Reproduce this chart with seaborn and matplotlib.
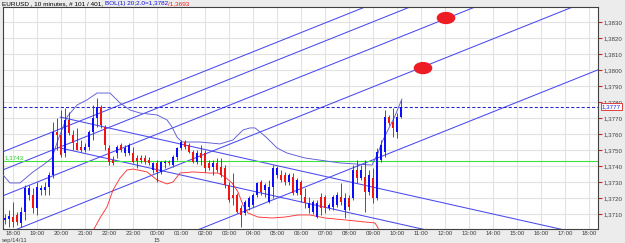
import matplotlib
matplotlib.use("Agg")
import matplotlib.pyplot as plt
import matplotlib.transforms as mtransforms
from matplotlib.patches import Ellipse
import numpy as np
import pandas as pd
import seaborn as sns

# ---------------------------------------------------------------- data
# 10 minute bars, bar 0 = 18:00 on sep/14/11
bar_start = -2
opens = [1.37063, 1.37069, 1.37081, 1.37094, 1.37044, 1.37113, 1.37219, 1.37219, 1.37138, 1.3725,
         1.3725, 1.37269, 1.37344, 1.37613, 1.37594, 1.37481, 1.37688, 1.37594, 1.37544, 1.37519,
         1.375, 1.37519, 1.37613, 1.377, 1.37769, 1.37644, 1.37513, 1.37438, 1.37481, 1.37531,
         1.37481, 1.37481, 1.37481, 1.3745, 1.3745, 1.3745, 1.37438, 1.37375, 1.37419, 1.37363,
         1.37419, 1.37425, 1.37406, 1.37456, 1.37513, 1.3755, 1.37531, 1.37488, 1.37425, 1.37481,
         1.37481, 1.37419, 1.37394, 1.37419, 1.37394, 1.37388, 1.37281, 1.37219, 1.37219, 1.37138,
         1.37106, 1.37144, 1.37156, 1.37219, 1.373, 1.3725, 1.37175, 1.37269, 1.37344, 1.37344,
         1.37344, 1.373, 1.37331, 1.37231, 1.373, 1.37206, 1.37138, 1.37113, 1.37081, 1.37206,
         1.37206, 1.37138, 1.37144, 1.37156, 1.37206, 1.37125, 1.372, 1.372, 1.37375, 1.37325,
         1.37331, 1.37238, 1.37325, 1.372, 1.37438, 1.37488, 1.37706, 1.37675, 1.37613, 1.37706]
highs = [1.371, 1.37125, 1.37175, 1.37113, 1.37144, 1.37281, 1.37281, 1.37263, 1.373, 1.37281,
         1.373, 1.37363, 1.37675, 1.377, 1.3775, 1.37763, 1.37738, 1.37625, 1.37638, 1.37563,
         1.37544, 1.37625, 1.37781, 1.37825, 1.37781, 1.37656, 1.37531, 1.37463, 1.37531, 1.37544,
         1.37531, 1.37544, 1.37519, 1.37469, 1.37469, 1.37469, 1.37456, 1.37425, 1.37438, 1.37431,
         1.37438, 1.37438, 1.37469, 1.37519, 1.37563, 1.37563, 1.37544, 1.375, 1.375, 1.37531,
         1.375, 1.37438, 1.37438, 1.3745, 1.3745, 1.37406, 1.373, 1.37356, 1.37231, 1.37156,
         1.37188, 1.37213, 1.37231, 1.373, 1.37313, 1.37294, 1.37313, 1.37406, 1.374, 1.37375,
         1.37363, 1.37356, 1.37356, 1.37325, 1.37313, 1.37263, 1.37206, 1.37188, 1.37188, 1.37231,
         1.37219, 1.37169, 1.37219, 1.37238, 1.37294, 1.37231, 1.37219, 1.37406, 1.37438, 1.37406,
         1.37438, 1.37375, 1.37388, 1.37513, 1.37563, 1.3775, 1.37719, 1.37763, 1.37731, 1.37813]
lows = [1.37038, 1.37019, 1.37019, 1.37031, 1.37019, 1.37063, 1.37188, 1.37106, 1.37094, 1.37219,
        1.37219, 1.37219, 1.37325, 1.375, 1.37456, 1.37456, 1.37594, 1.375, 1.375, 1.37488,
        1.37488, 1.375, 1.37563, 1.37644, 1.37638, 1.375, 1.37406, 1.37406, 1.3745, 1.37488,
        1.37463, 1.37469, 1.37419, 1.37388, 1.37419, 1.37413, 1.37406, 1.37356, 1.373, 1.3735,
        1.37388, 1.37406, 1.37394, 1.37438, 1.375, 1.37506, 1.37481, 1.37419, 1.37413, 1.37406,
        1.37363, 1.37375, 1.37344, 1.37363, 1.37331, 1.37263, 1.37175, 1.37156, 1.37106, 1.37019,
        1.37094, 1.37125, 1.37144, 1.37206, 1.37219, 1.37206, 1.37169, 1.372, 1.37325, 1.373,
        1.37281, 1.37281, 1.37219, 1.37219, 1.37175, 1.37138, 1.37106, 1.371, 1.37075, 1.37094,
        1.37106, 1.37125, 1.37125, 1.37144, 1.37156, 1.37075, 1.37125, 1.37188, 1.37294, 1.37313,
        1.37113, 1.37219, 1.37169, 1.37188, 1.37425, 1.37456, 1.37656, 1.37581, 1.37575, 1.377]
closes = [1.37075, 1.37088, 1.3705, 1.3705, 1.37113, 1.37263, 1.37263, 1.37138, 1.37269, 1.37263,
          1.37269, 1.37344, 1.37613, 1.37594, 1.37469, 1.37688, 1.37606, 1.37544, 1.375, 1.375,
          1.37519, 1.37613, 1.377, 1.37769, 1.37656, 1.37531, 1.37425, 1.37419, 1.37519, 1.375,
          1.37513, 1.37531, 1.37425, 1.37431, 1.37438, 1.37425, 1.37419, 1.37419, 1.37363, 1.37425,
          1.37425, 1.37419, 1.37456, 1.37513, 1.3755, 1.37519, 1.37488, 1.37425, 1.37481, 1.3745,
          1.37388, 1.37388, 1.37419, 1.37375, 1.37344, 1.37281, 1.37188, 1.372, 1.37113, 1.37094,
          1.37175, 1.372, 1.37219, 1.37294, 1.37238, 1.37281, 1.37269, 1.37388, 1.37388, 1.37313,
          1.373, 1.37344, 1.37231, 1.37313, 1.37219, 1.37169, 1.37169, 1.37175, 1.37169, 1.37138,
          1.37138, 1.37156, 1.37206, 1.37219, 1.37175, 1.372, 1.37144, 1.37375, 1.37325, 1.37375,
          1.37238, 1.37344, 1.372, 1.37488, 1.37531, 1.37706, 1.37669, 1.37638, 1.37706, 1.37769]

# Bollinger bands (sampled along the curve)
upper_x = [-2.5, -0.75, 1.75, 5.0, 7.5, 9.75, 11.25, 13.5, 16, 18.5, 21, 24.25, 26.75, 29.25,
           31.75, 36, 38.5, 39.75, 41, 42.25, 46.75, 51.75, 55, 57.5, 59.25, 60.5, 61.75, 63.5,
           66, 68.5, 73, 81.75, 89.75, 91.25, 92.25, 93.75, 95.5, 97.25]
upper_y = [1.37344, 1.37294, 1.37294, 1.37363, 1.37406, 1.3745, 1.37563, 1.37706, 1.37781,
           1.37813, 1.37856, 1.37856, 1.37794, 1.3775, 1.37731, 1.37719, 1.37688, 1.37644,
           1.37581, 1.3755, 1.3755, 1.37538, 1.37563, 1.37625, 1.37638, 1.37638, 1.37613,
           1.37575, 1.37513, 1.37481, 1.3745, 1.37419, 1.37406, 1.37481, 1.3755, 1.37625,
           1.37713, 1.3782]
lower_x = [18.75, 21.75, 23.5, 25, 26.75, 28.5, 30, 33.5, 36, 38.5, 40, 41.75, 45, 49.25, 51.25,
           53, 54.75, 56.25, 57.5, 58.75, 61.25, 64.75, 68, 71.25, 74.25, 78, 83, 88, 90.5,
           91.25, 92]
lower_y = [1.36938, 1.37075, 1.37144, 1.3725, 1.37325, 1.37375, 1.37381, 1.37363, 1.37313,
           1.37288, 1.373, 1.37356, 1.37363, 1.37356, 1.37356, 1.37331, 1.37294, 1.37238,
           1.37156, 1.37106, 1.37081, 1.37075, 1.37081, 1.37094, 1.37094, 1.37075, 1.37063,
           1.3705, 1.37044, 1.37013, 1.36938]

# channel lines: rising set and falling set (two end points each)
rise_x = [-2.5, 146.25]
rise_start = [1.37489, 1.37376, 1.37214, 1.3697, 1.36514]
rise_end = [1.38976, 1.38864, 1.38701, 1.38457, 1.38001]
fall_x = [11.75, 146.25]
fall_start = [1.37706, 1.37513]
fall_end = [1.36953, 1.3676]

last_price = 1.3777
marked_level = 1.3743
dot_x = [102.5, 108.25]
dot_y = [1.38012, 1.38325]

hour_labels = ["18:00", "19:00", "20:00", "21:00", "22:00", "23:00", "00:00", "01:00", "02:00",
               "03:00", "04:00", "05:00", "06:00", "07:00", "08:00", "09:00", "10:00", "11:00",
               "12:00", "13:00", "14:00", "15:00", "16:00", "17:00", "18:00"]
price_ticks = [1.371, 1.372, 1.373, 1.374, 1.375, 1.376, 1.377, 1.378, 1.379, 1.380, 1.381,
               1.382, 1.383]

df = pd.DataFrame({"open": opens, "high": highs, "low": lows, "close": closes})
df["bar"] = np.arange(bar_start, bar_start + len(df))

# ---------------------------------------------------------------- plot
sns.set_style("white")
plt.rcParams["font.family"] = ["Liberation Sans", "DejaVu Sans"]

W, H = 625, 243
fig = plt.figure(figsize=(W / 100, H / 100), dpi=100, facecolor="#ececec")
ax = fig.add_axes([3 / W, 1 - 229 / H, 595 / W, 222 / H])
ax.set_facecolor("white")

# grid
for k in range(len(hour_labels)):
    ax.axvline(6 * k, color="#e2e2e2", lw=0.8, zorder=0)
for p in price_ticks:
    ax.axhline(p, color="#e2e2e2", lw=0.8, zorder=0)

# channel lines
for a, b in zip(rise_start, rise_end):
    sns.lineplot(x=rise_x, y=[a, b], ax=ax, color="#4a4af0", lw=0.75, zorder=2)
for a, b in zip(fall_start, fall_end):
    sns.lineplot(x=fall_x, y=[a, b], ax=ax, color="#4a4af0", lw=0.75, zorder=2)

# levels
ax.axhline(marked_level, color="#3ee03e", lw=0.8, zorder=2)
ax.axhline(last_price, color="#2424d0", lw=0.75, ls=(0, (3, 2)), zorder=2)

# bollinger bands
sns.lineplot(x=upper_x, y=upper_y, ax=ax, color="#5c5cd8", lw=0.65, zorder=3)
sns.lineplot(x=lower_x, y=lower_y, ax=ax, color="#ff3434", lw=0.65, zorder=3)

# candles
up = df["close"] >= df["open"]
ax.vlines(df["bar"], df["low"], df["high"], color="#3c3c3c", lw=0.6, zorder=4)
body_lo = np.minimum(df["open"], df["close"])
body_h = np.maximum(np.abs(df["close"] - df["open"]), 0.00007)
ax.bar(df["bar"], body_h, bottom=body_lo, width=0.72,
       color=np.where(up, "#0c0cff", "#f21414"), linewidth=0, zorder=5)

# red markers
for x, y in zip(dot_x, dot_y):
    ax.add_patch(Ellipse((x, y), width=4.3, height=0.00068, color="#ee1c24", zorder=6))

ax.set_xlim(-2.5, 146.25)
ax.set_ylim(1.3700625, 1.3839375)

ax.set_xticks([6 * k for k in range(len(hour_labels))])
ax.set_xticklabels(hour_labels)
ax.yaxis.tick_right()
ax.set_yticks(price_ticks)
ax.set_yticklabels([f"{p:.4f}".replace(".", ",") for p in price_ticks])
ax.tick_params(axis="y", colors="#e02020", labelcolor="#404040", length=3, width=0.8,
               labelsize=4.4, pad=1)
ax.tick_params(axis="x", colors="#606060", labelcolor="#404040", length=1.2, width=0.6,
               labelsize=4.4, pad=0.4)
for s in ax.spines.values():
    s.set_color("#404040")
    s.set_linewidth(0.8)

# labels inside / beside the plot
ax.text(-2.2, marked_level + 0.00004, f"{marked_level:.4f}".replace(".", ","),
        color="#22cc22", fontsize=4.4, va="bottom", ha="left")
trans = mtransforms.blended_transform_factory(ax.transAxes, ax.transData)
ax.text(1.006, last_price, f"{last_price:.4f}".replace(".", ","), transform=trans,
        color="#2020e0", fontsize=4.4, va="center", ha="left",
        bbox=dict(boxstyle="square,pad=0.15", fc="white", ec="#e02020", lw=0.6))

fig.text(2 / W, 1 - 242.6 / H, "sep/14/11", fontsize=4.2, color="#404040", va="bottom", ha="left")
fig.text(157 / W, 1 - 242.6 / H, "15", fontsize=4.2, color="#404040", va="bottom", ha="center")

# title in three colours
fig.canvas.draw()
r = fig.canvas.get_renderer()
x0 = 2 / W
for txt, col in [("EURUSD , 10 minutes, # 101 / 401, ", "#000000"),
                 ("BOL(1) 20;2.0=1,3782", "#1010e0"),
                 ("/1,3693", "#f02020")]:
    t = fig.text(x0, 1 - 3.5 / H, txt, fontsize=4.6, color=col, va="center", ha="left")
    bb = t.get_window_extent(renderer=r)
    x0 = bb.x1 / W

fig.savefig("out.png", dpi=100, facecolor=fig.get_facecolor())
